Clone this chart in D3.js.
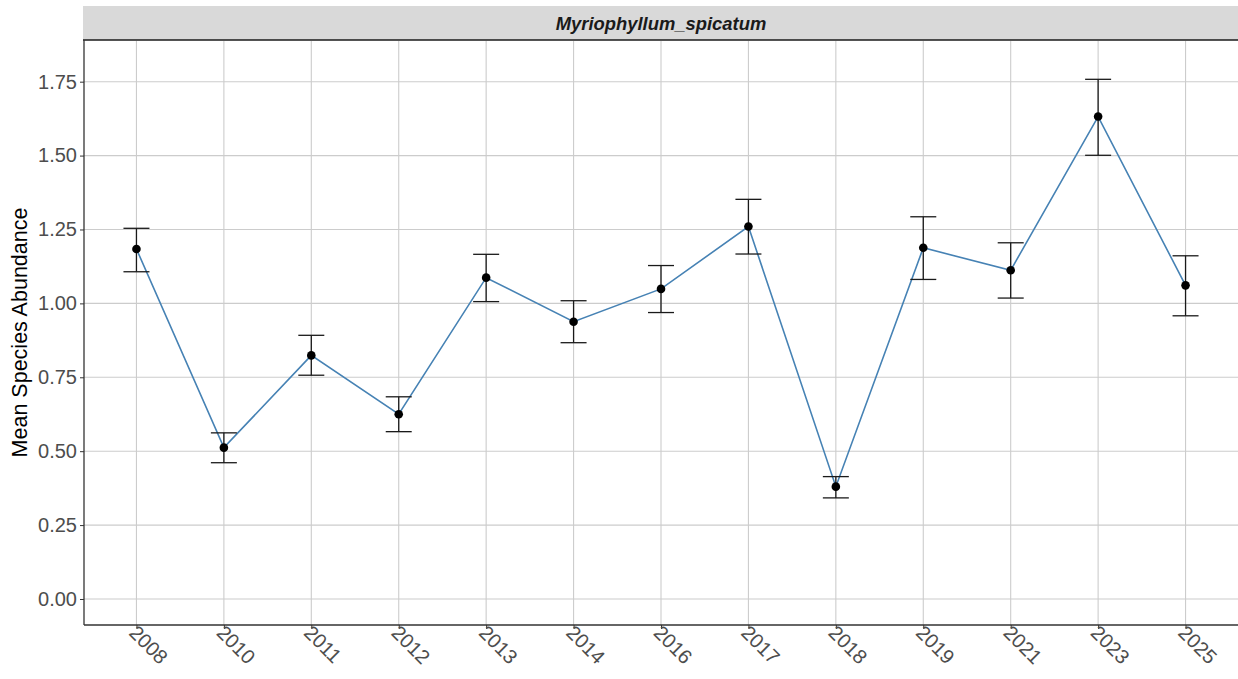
<!DOCTYPE html>
<html>
<head>
  <meta charset="utf-8">
  <title>Myriophyllum_spicatum</title>
  <style>
  body { margin: 0; background: #fff; }
  text { font-family: "Liberation Sans", Arial, sans-serif; }
  .grid line { stroke: #cccccc; stroke-width: 1.1px; }
  .axis path, .axis line { stroke: #333; }
  .axis text { fill: #4d4d4d; font-size: 20px; }
  </style>
</head>
<body>
<svg width="1238" height="679"></svg>
<script src="https://d3js.org/d3.v7.min.js"></script>
<script>

var years = ["2008", "2010", "2011", "2012", "2013", "2014", "2016", "2017", "2018", "2019", "2021", "2023", "2025"];
var means = [1.184, 0.512, 0.824, 0.625, 1.087, 0.938, 1.049, 1.260, 0.380, 1.188, 1.112, 1.632, 1.061];
var lower = [1.107, 0.461, 0.757, 0.566, 1.006, 0.867, 0.969, 1.167, 0.342, 1.081, 1.018, 1.501, 0.958];
var upper = [1.254, 0.562, 0.892, 0.684, 1.166, 1.009, 1.128, 1.352, 0.414, 1.293, 1.205, 1.758, 1.161];
var yTicks = [0, 0.25, 0.5, 0.75, 1, 1.25, 1.5, 1.75];
var title = "Myriophyllum_spicatum";

var data = years.map(function(y, i) {
  return { year: y, mean: means[i], lo: lower[i], hi: upper[i] };
});

var svg = d3.select("svg");
var pLeft = 84, pRight = 1238, pTop = 40, pBottom = 625;

var x = d3.scalePoint().domain(years).range([pLeft, pRight]).padding(0.6);
var y = d3.scaleLinear().domain([-0.088, 1.891]).range([pBottom, pTop]);

// strip
svg.append("rect")
    .attr("x", pLeft - 1).attr("y", 6)
    .attr("width", pRight - pLeft + 1).attr("height", pTop - 6)
    .attr("fill", "#d9d9d9");

// grid
var grid = svg.append("g").attr("class", "grid");
grid.selectAll(".h").data(yTicks).enter().append("line")
    .attr("x1", pLeft).attr("x2", pRight)
    .attr("y1", function(d) { return y(d); })
    .attr("y2", function(d) { return y(d); });
grid.selectAll(".v").data(years).enter().append("line")
    .attr("x1", function(d) { return x(d); })
    .attr("x2", function(d) { return x(d); })
    .attr("y1", pTop + 1).attr("y2", pBottom);

svg.append("line")
    .attr("x1", pLeft - 1).attr("x2", pRight)
    .attr("y1", pTop).attr("y2", pTop)
    .attr("stroke", "#1a1a1a").attr("stroke-width", 1.3);
svg.append("text")
    .attr("x", (pLeft + pRight) / 2).attr("y", 30)
    .attr("text-anchor", "middle")
    .style("font-weight", "bold").style("font-style", "italic")
    .style("font-size", "18.4px").attr("fill", "#1a1a1a")
    .text(title);

// axes
var yAxis = svg.append("g").attr("class", "axis")
    .attr("transform", "translate(" + pLeft + ",0)")
    .call(d3.axisLeft(y).tickValues(yTicks).tickFormat(d3.format(".2f")).tickSize(4).tickPadding(3));
yAxis.select(".domain").attr("d", "M0," + pTop + "V" + pBottom).attr("stroke-width", 1.3);

var xAxis = svg.append("g").attr("class", "axis")
    .attr("transform", "translate(0," + pBottom + ")")
    .call(d3.axisBottom(x).tickSize(4).tickSizeOuter(0));
xAxis.select(".domain").attr("d", "M" + pLeft + ",0H" + pRight).attr("stroke-width", 1.3);
xAxis.selectAll("text")
    .attr("text-anchor", "start")
    .attr("dy", null)
    .attr("transform", "translate(-9,9) rotate(45)")
    .attr("x", 0).attr("y", 0);

// y title
svg.append("text")
    .attr("transform", "translate(27," + ((pTop + pBottom) / 2) + ") rotate(-90)")
    .attr("text-anchor", "middle")
    .style("font-size", "21.5px").attr("fill", "#000")
    .text("Mean Species Abundance");

// line
svg.append("path")
    .datum(data)
    .attr("fill", "none")
    .attr("stroke", "#4682b4")
    .attr("stroke-width", 1.6)
    .attr("d", d3.line()
      .x(function(d) { return x(d.year); })
      .y(function(d) { return y(d.mean); }));

// error bars
var eb = svg.append("g").attr("stroke", "#1a1a1a").attr("stroke-width", 1.3);
var capW = 13;
eb.selectAll(".v").data(data).enter().append("line")
    .attr("x1", function(d) { return x(d.year); })
    .attr("x2", function(d) { return x(d.year); })
    .attr("y1", function(d) { return y(d.lo); })
    .attr("y2", function(d) { return y(d.hi); });
eb.selectAll(".t").data(data).enter().append("line")
    .attr("x1", function(d) { return x(d.year) - capW; })
    .attr("x2", function(d) { return x(d.year) + capW; })
    .attr("y1", function(d) { return y(d.hi); })
    .attr("y2", function(d) { return y(d.hi); });
eb.selectAll(".b").data(data).enter().append("line")
    .attr("x1", function(d) { return x(d.year) - capW; })
    .attr("x2", function(d) { return x(d.year) + capW; })
    .attr("y1", function(d) { return y(d.lo); })
    .attr("y2", function(d) { return y(d.lo); });

// points
svg.append("g").selectAll("circle").data(data).enter().append("circle")
    .attr("cx", function(d) { return x(d.year); })
    .attr("cy", function(d) { return y(d.mean); })
    .attr("r", 4.3)
    .attr("fill", "#000");

</script>
</body>
</html>
